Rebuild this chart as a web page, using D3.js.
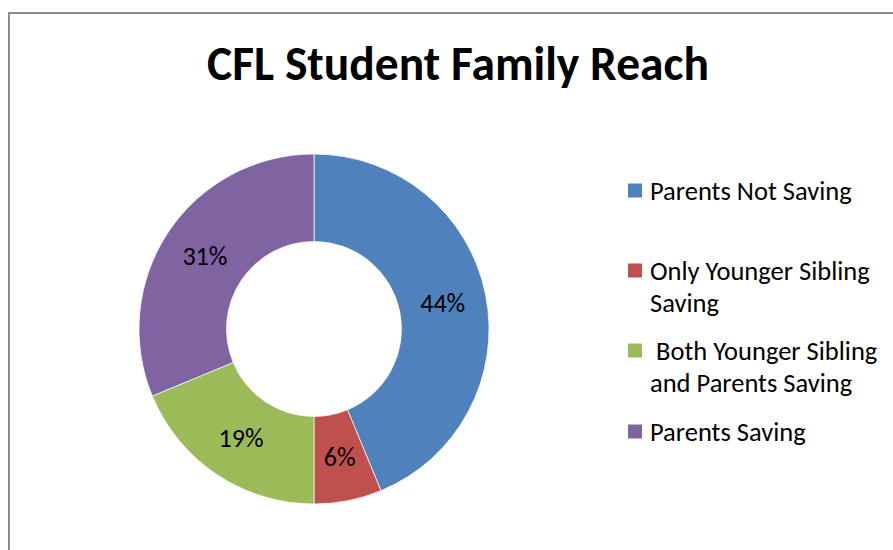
<!DOCTYPE html>
<html>
<head>
<meta charset="utf-8">
<script src="https://cdn.jsdelivr.net/npm/d3@7"></script>
<style>
  body { margin: 0; background: #fff; }
  svg { display: block; font-family: Carlito, Calibri, "Open Sans", sans-serif; }
</style>
</head>
<body>
<svg id="chart" width="893" height="550"></svg>
<script>
// data (shares of 16)
const categories = ['Parents Not Saving', 'Only Younger Sibling Saving', 'Both Younger Sibling and Parents Saving', 'Parents Saving'];
const legendLines = [['Parents Not Saving'], ['Only Younger Sibling', 'Saving'], [' Both Younger Sibling', 'and Parents Saving'], ['Parents Saving']];
const values = [7, 1, 3, 5];
const colors = ['#4F81BD', '#C0504D', '#9BBB59', '#8064A2'];
const title = 'CFL Student Family Reach';

const svg = d3.select('#chart');
const cx = 314, cy = 329, outerR = 175, innerR = 87.5;

// frame
svg.append('rect')
  .attr('x', 9).attr('y', 13)
  .attr('width', 920).attr('height', 600)
  .attr('fill', '#fff')
  .attr('stroke', '#8c8c8c').attr('stroke-width', 2);

svg.append('text')
  .attr('x', 458).attr('y', 80)
  .attr('text-anchor', 'middle')
  .attr('font-size', 47.5).attr('font-weight', 'bold')
  .attr('fill', '#000')
  .text(title);

const pie = d3.pie().sort(null).value(d => d);
const arc = d3.arc().innerRadius(innerR).outerRadius(outerR);
const labelArc = d3.arc().innerRadius((innerR + outerR) / 2).outerRadius((innerR + outerR) / 2);
const total = d3.sum(values);

const g = svg.append('g').attr('transform', `translate(${cx},${cy})`);
const arcs = pie(values);

g.selectAll('path').data(arcs).enter().append('path')
  .attr('d', arc)
  .attr('fill', (d, i) => colors[i])
  .attr('stroke', '#fff').attr('stroke-width', 0.7);

g.selectAll('text').data(arcs).enter().append('text')
  .attr('transform', d => `translate(${labelArc.centroid(d)})`)
  .attr('text-anchor', 'middle')
  .attr('dy', '0.33em')
  .attr('font-size', 26)
  .attr('fill', '#000')
  .text(d => Math.round(d.value / total * 100) + '%');

// legend
const legendTop = [199.5, 279.5, 359.5, 440.5];
const lineH = 32;
const legend = svg.append('g');
const item = legend.selectAll('g').data(categories).enter().append('g');
item.append('rect')
  .attr('x', 628).attr('y', (d, i) => legendTop[i] - 16)
  .attr('width', 14).attr('height', 14)
  .attr('fill', (d, i) => colors[i]);
item.each(function (d, i) {
  const t = d3.select(this).append('text')
    .attr('font-size', 26.5).attr('fill', '#000')
    .attr('xml:space', 'preserve');
  legendLines[i].forEach((ln, j) => {
    t.append('tspan').attr('x', 650).attr('y', legendTop[i] + j * lineH).text(ln);
  });
});
</script>
</body>
</html>
